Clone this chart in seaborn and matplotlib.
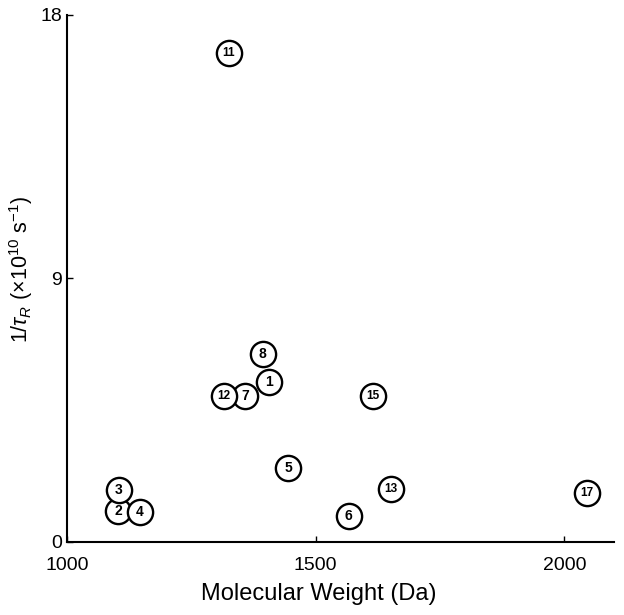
import matplotlib
matplotlib.use("Agg")
import matplotlib.pyplot as plt
import pandas as pd
import seaborn as sns

# compound number, molecular weight (Da), 1/tau_R (x10^10 s^-1)
labels = ["1", "2", "3", "4", "5", "6", "7", "8", "11", "12", "13", "15", "17"]
mw = [1406, 1103, 1105, 1147, 1445, 1567, 1358, 1394, 1326, 1316, 1652, 1616, 2046]
inv_tau = [5.45, 1.06, 1.78, 1.03, 2.53, 0.89, 4.97, 6.40, 16.68, 4.97, 1.82, 4.97, 1.68]

df = pd.DataFrame({"label": labels, "mw": mw, "inv_tau": inv_tau})

sns.set_style("ticks")
plt.rcParams["font.family"] = ["Liberation Sans", "DejaVu Sans"]
plt.rcParams["mathtext.fontset"] = "custom"
plt.rcParams["mathtext.it"] = "Liberation Sans:italic"
plt.rcParams["mathtext.rm"] = "Liberation Sans"

fig = plt.figure(figsize=(6.24, 6.15), dpi=100)
ax = fig.add_axes([0.107, 0.119, 0.877, 0.857])

sns.scatterplot(data=df, x="mw", y="inv_tau", ax=ax, s=330,
                facecolor="white", edgecolor="black", linewidth=1.7, zorder=3)
for _, r in df.iterrows():
    fs = 10 if len(r["label"]) == 1 else 8.5
    ax.text(r["mw"], r["inv_tau"], r["label"], ha="center", va="center",
            fontsize=fs, fontweight="bold", zorder=4, color="black")

ax.set_xlim(1000, 2100)
ax.set_ylim(0, 18)
ax.set_xticks([1000, 1500, 2000])
ax.set_yticks([0, 9, 18])
ax.tick_params(direction="in", length=4, width=1, labelsize=14,
               colors="black", labelcolor="black")
ax.tick_params(axis="x", pad=11)
sns.despine(ax=ax)
for sp in ["left", "bottom"]:
    ax.spines[sp].set_linewidth(1.5)
    ax.spines[sp].set_color("black")

ax.set_xlabel("Molecular Weight (Da)", fontsize=17, color="black")
ax.set_ylabel(r"1/$\tau_R$ (×10$^{10}$ s$^{-1}$)", fontsize=15.5, color="black")
ax.xaxis.set_label_coords(0.461, -0.078)
ax.yaxis.set_label_coords(-0.058, 0.516)

fig.savefig("out.png", dpi=100)
